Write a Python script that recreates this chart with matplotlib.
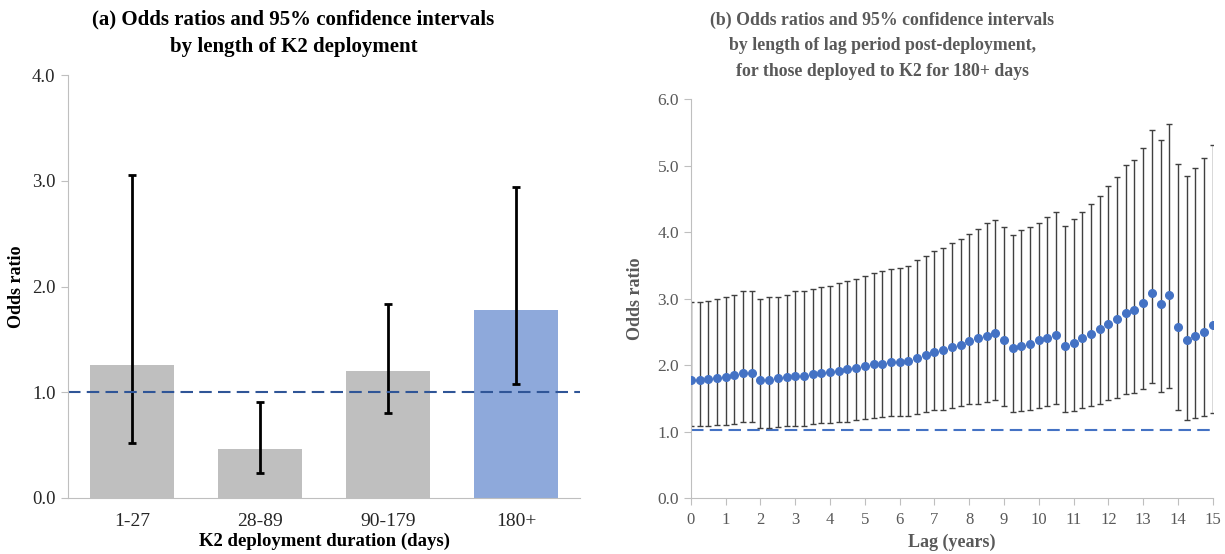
import matplotlib
matplotlib.use("Agg")
import matplotlib.pyplot as plt
import numpy as np

# panel (a): odds ratios by K2 deployment duration
durations = ["1-27", "28-89", "90-179", "180+"]
or_a = [1.26, 0.46, 1.20, 1.78]
lo_a = [0.52, 0.24, 0.80, 1.08]
hi_a = [3.05, 0.91, 1.83, 2.94]

# panel (b): odds ratios by lag (years), 180+ days deployed
lag = np.arange(0, 15.01, 0.25)
or_b = [1.78, 1.77, 1.79, 1.80, 1.82, 1.85, 1.88, 1.88,
        1.77, 1.78, 1.80, 1.82, 1.83, 1.84, 1.86, 1.88,
        1.89, 1.91, 1.94, 1.96, 1.99, 2.01, 2.02, 2.04,
        2.05, 2.06, 2.11, 2.15, 2.20, 2.23, 2.27, 2.30,
        2.36, 2.40, 2.44, 2.48, 2.38, 2.26, 2.29, 2.31,
        2.37, 2.41, 2.45, 2.29, 2.33, 2.40, 2.47, 2.54,
        2.61, 2.69, 2.79, 2.83, 2.93, 3.09, 2.92, 3.06,
        2.57, 2.38, 2.44, 2.50, 2.60]
hi_b = [2.95, 2.95, 2.97, 3.00, 3.02, 3.06, 3.11, 3.12,
        2.99, 3.02, 3.03, 3.06, 3.11, 3.11, 3.15, 3.18,
        3.19, 3.23, 3.26, 3.30, 3.34, 3.39, 3.41, 3.45,
        3.46, 3.49, 3.58, 3.64, 3.71, 3.76, 3.83, 3.89,
        3.97, 4.04, 4.13, 4.18, 4.08, 3.96, 4.03, 4.07,
        4.14, 4.23, 4.30, 4.09, 4.20, 4.30, 4.42, 4.55,
        4.70, 4.83, 5.01, 5.09, 5.26, 5.54, 5.39, 5.63,
        5.03, 4.85, 4.96, 5.11, 5.31]
lo_b = [1.08, 1.08, 1.08, 1.10, 1.10, 1.12, 1.14, 1.14,
        1.05, 1.06, 1.07, 1.08, 1.09, 1.09, 1.11, 1.13,
        1.13, 1.14, 1.15, 1.17, 1.19, 1.20, 1.22, 1.23,
        1.23, 1.23, 1.26, 1.29, 1.32, 1.33, 1.35, 1.38,
        1.41, 1.42, 1.45, 1.48, 1.39, 1.30, 1.31, 1.33,
        1.35, 1.38, 1.41, 1.29, 1.31, 1.35, 1.38, 1.42,
        1.47, 1.51, 1.57, 1.58, 1.64, 1.73, 1.60, 1.66,
        1.32, 1.17, 1.20, 1.23, 1.28]

GREY_BAR = "#BFBFBF"
BLUE_BAR = "#8EA9DB"
NAVY = "#2F5597"
BLUE = "#4472C4"
AXIS = "#BFBFBF"
TEXT_A = "#262626"
TEXT_B = "#595959"

plt.rcParams["font.family"] = ["Liberation Serif", "DejaVu Serif"]

fig = plt.figure(figsize=(12.25, 5.54), dpi=100)

# ---- panel (a)
ax = fig.add_axes([0.0555, 0.1011, 0.418, 0.7635])
x = np.arange(len(durations))
ax.bar(x, or_a, width=0.66, color=[GREY_BAR, GREY_BAR, GREY_BAR, BLUE_BAR])
yerr = [np.array(or_a) - np.array(lo_a), np.array(hi_a) - np.array(or_a)]
ax.errorbar(x, or_a, yerr=yerr, fmt="none", ecolor="black", elinewidth=2,
            capsize=3, capthick=2)
ax.axhline(1.0, color=NAVY, linestyle=(0, (6, 3)), linewidth=1.5)
ax.set_xlim(-0.5, 3.5)
ax.set_ylim(0, 4)
ticks_a = np.arange(0, 4.01, 1.0)
ax.set_yticks(ticks_a)
ax.set_yticklabels([f"{v:.1f}" for v in ticks_a])
ax.set_xticks(x)
ax.set_xticklabels(durations)
ax.tick_params(axis="y", labelsize=13.5, colors=AXIS, labelcolor=TEXT_A, length=5, width=0.8, pad=4)
ax.tick_params(axis="x", labelsize=14, length=0, pad=11, labelcolor=TEXT_A)
for side in ["top", "right"]:
    ax.spines[side].set_visible(False)
for side in ["left", "bottom"]:
    ax.spines[side].set_color(AXIS)
    ax.spines[side].set_linewidth(0.8)
ax.set_ylabel("Odds ratio", fontsize=13, fontweight="bold", labelpad=5)
ax.set_xlabel("K2 deployment duration (days)", fontsize=13.5, fontweight="bold", labelpad=2)
fig.text(0.2396, 0.940, "(a) Odds ratios and 95% confidence intervals\nby length of K2 deployment",
         ha="center", va="center", fontsize=15, fontweight="bold", linespacing=1.45)

# ---- panel (b)
ax = fig.add_axes([0.564, 0.1011, 0.426, 0.720])
yerr_b = [np.array(or_b) - np.array(lo_b), np.array(hi_b) - np.array(or_b)]
ax.errorbar(lag, or_b, yerr=yerr_b, fmt="none", ecolor="#404040", elinewidth=1.0,
            capsize=2.5, capthick=1.0, zorder=2)
ax.plot([0, 15], [1.02, 1.02], color=BLUE, linestyle=(0, (6, 3)), linewidth=1.5, zorder=1)
ax.plot(lag, or_b, "o", color=BLUE, markersize=5.5, zorder=3)
ax.set_xlim(0, 15)
ax.set_ylim(0, 6)
ax.set_xticks(np.arange(0, 16, 1))
ticks_b = np.arange(0, 6.01, 1.0)
ax.set_yticks(ticks_b)
ax.set_yticklabels([f"{v:.1f}" for v in ticks_b])
ax.tick_params(axis="y", labelsize=12.5, colors=AXIS, labelcolor=TEXT_B, length=5, width=0.8)
ax.tick_params(axis="x", labelsize=12, colors=AXIS, labelcolor=TEXT_B, length=5, width=0.8, pad=5)
for side in ["top", "right"]:
    ax.spines[side].set_visible(False)
for side in ["left", "bottom"]:
    ax.spines[side].set_color(AXIS)
    ax.spines[side].set_linewidth(0.8)
ax.set_ylabel("Odds ratio", fontsize=13, fontweight="bold", color=TEXT_B, labelpad=10)
ax.set_xlabel("Lag (years)", fontsize=13, fontweight="bold", color=TEXT_B, labelpad=4)
fig.text(0.7204, 0.918,
         "(b) Odds ratios and 95% confidence intervals\nby length of lag period post-deployment,\nfor those deployed to K2 for 180+ days",
         ha="center", va="center", fontsize=12.8, fontweight="bold", color=TEXT_B, linespacing=1.65)

fig.savefig("out.png", dpi=100)
